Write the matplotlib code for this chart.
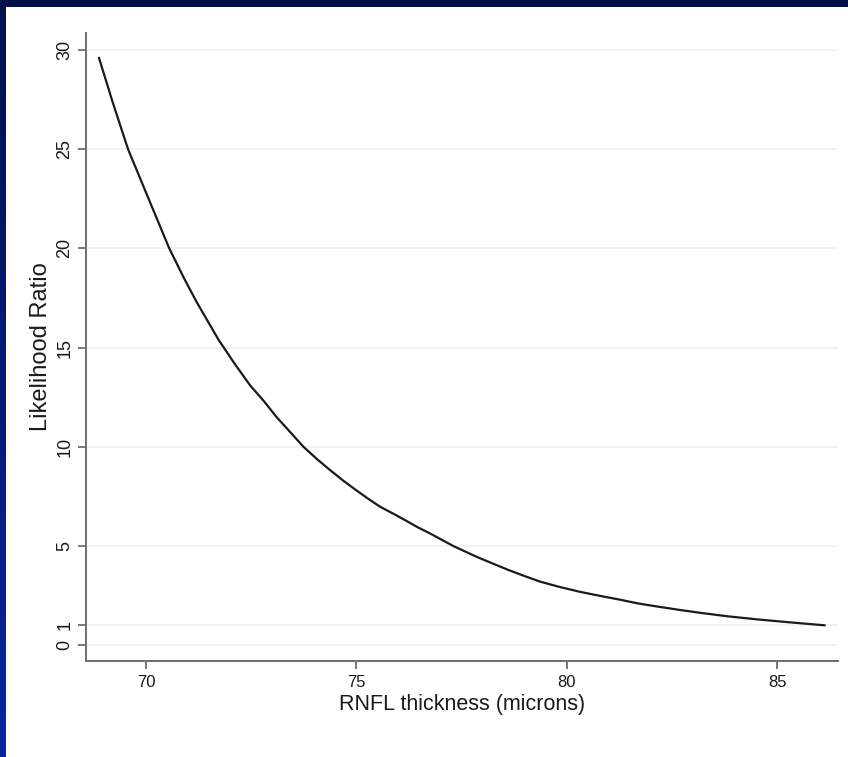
import numpy as np
import matplotlib
matplotlib.use("Agg")
import matplotlib.pyplot as plt

# -------------------------
# DATA
# -------------------------
rnfl = [68.88, 69.2, 69.57, 70.0, 70.55, 70.9, 71.2, 71.72, 72.1, 72.47,
        72.8, 73.1, 73.4, 73.74, 74.05, 74.37, 74.7, 75.0, 75.3, 75.56,
        75.9, 76.2, 76.45, 76.75, 77.3, 77.86, 78.2, 78.6, 79.0, 79.37,
        79.8, 80.31, 80.8, 81.27, 81.7, 82.2, 82.7, 83.17, 83.8, 84.52,
        85.3, 86.13]
lr = [29.6, 27.4, 25.0, 22.8, 20.0, 18.5, 17.3, 15.4, 14.2, 13.1,
      12.3, 11.5, 10.8, 10.0, 9.4, 8.83, 8.27, 7.8, 7.35, 6.98,
      6.6, 6.25, 5.95, 5.63, 5.0, 4.45, 4.15, 3.8, 3.48, 3.2,
      2.95, 2.69, 2.48, 2.29, 2.1, 1.93, 1.77, 1.63, 1.46, 1.30,
      1.15, 1.0]

x_ticks = [70, 75, 80, 85]
y_ticks = [0, 1, 5, 10, 15, 20, 25, 30]

plt.rcParams["font.family"] = ["Liberation Sans", "DejaVu Sans"]

W, H = 848, 757
fig = plt.figure(figsize=(W / 100, H / 100), dpi=100)
fig.patch.set_facecolor("white")

# slide frame: navy strip on top, blue gradient strip on the left
top = fig.add_axes([0, 1 - 7 / H, 1, 7 / H])
top.set_facecolor("#00114a")
top.set_axis_off()
top.add_patch(plt.Rectangle((0, 0), 1, 1, color="#00114a", transform=top.transAxes))

left = fig.add_axes([0, 0, 6 / W, 1 - 7 / H])
grad = np.linspace(0, 1, 256).reshape(-1, 1)
cmap = matplotlib.colors.LinearSegmentedColormap.from_list("frame", ["#0a24a0", "#00124e"])
left.imshow(grad, aspect="auto", cmap=cmap, origin="lower", extent=[0, 1, 0, 1])
left.set_axis_off()

# -------------------------
# MAIN PLOT
# -------------------------
ax = fig.add_axes([86 / W, 96 / H, (838 - 86) / W, (661 - 33) / H])
ax.plot(rnfl, lr, color="#1a1a1a", lw=1.6, solid_joinstyle="round")

ax.set_xlim(68.57, 86.45)
ax.set_ylim(-0.8, 30.86)
ax.set_xticks(x_ticks)
ax.set_yticks(y_ticks)
ax.set_yticklabels([str(t) for t in y_ticks], rotation=90, va="center")

ax.grid(axis="y", color="#edf4f4", lw=1.5)
ax.set_axisbelow(True)

for side in ["top", "right"]:
    ax.spines[side].set_visible(False)
for side in ["left", "bottom"]:
    ax.spines[side].set_color("#6e6e6e")
    ax.spines[side].set_linewidth(1.4)

ax.tick_params(length=6, width=1.3, color="#6e6e6e", labelsize=12,
               labelcolor="#1a1a1a", pad=4)
ax.tick_params(axis="y", labelsize=13, pad=3)

ax.set_xlabel("RNFL thickness (microns)", fontsize=15.5, color="#1a1a1a", labelpad=3)
ax.set_ylabel("Likelihood Ratio", fontsize=17, color="#1a1a1a", labelpad=3)

fig.savefig("out.png", dpi=100, facecolor="white")
